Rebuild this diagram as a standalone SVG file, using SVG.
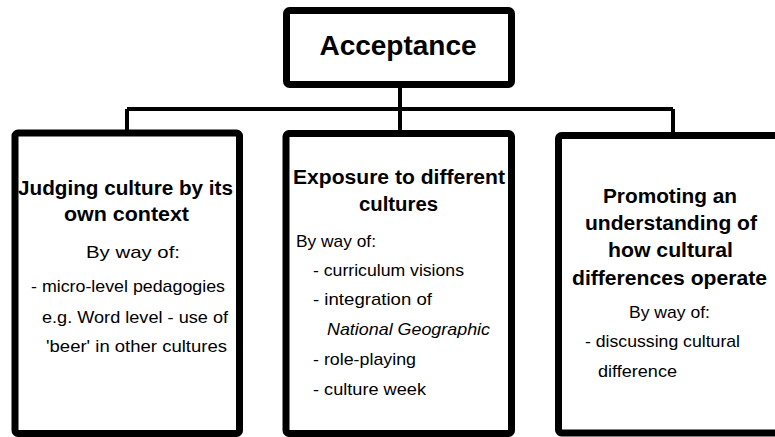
<svg xmlns="http://www.w3.org/2000/svg" width="775" height="437" viewBox="0 0 775 437">
<style>
.box{fill:#fff;stroke:#000;stroke-width:7}
.con{fill:none;stroke:#000;stroke-width:4}
text{font-family:"Liberation Sans",Arial,sans-serif;fill:#000}
.t{font-weight:bold;font-size:20px}
.b{font-size:17px}
.i{font-style:italic}
</style>
<rect width="775" height="437" fill="#fff"/>
<g id="connectors">
<path class="con" d="M400,88V109M127,109H673M127,109V130M400,109V130M673,109V132"/>
</g>
<g id="acceptance">
<rect class="box" x="286.5" y="10.5" width="225" height="74" rx="3"/>
<text x="398" y="55" text-anchor="middle" font-weight="bold" font-size="28">Acceptance</text>
</g>
<g id="judging">
<rect class="box" x="15" y="133" width="224.5" height="300.5" rx="3"/>
<text class="t" x="18" y="195" textLength="215" lengthAdjust="spacingAndGlyphs">Judging culture by its</text>
<text class="t" x="64" y="221" textLength="125" lengthAdjust="spacingAndGlyphs">own context</text>
<text class="b" x="86" y="258" textLength="94" lengthAdjust="spacingAndGlyphs">By way of:</text>
<text class="b" x="31" y="292" textLength="194" lengthAdjust="spacingAndGlyphs">- micro-level pedagogies</text>
<text class="b" x="42" y="323" textLength="186" lengthAdjust="spacingAndGlyphs">e.g.  Word level - use of</text>
<text class="b" x="46" y="352" textLength="181" lengthAdjust="spacingAndGlyphs">'beer' in other cultures</text>
</g>
<g id="exposure">
<rect class="box" x="286" y="133.5" width="225.5" height="300" rx="3"/>
<text class="t" x="293" y="184" textLength="212" lengthAdjust="spacingAndGlyphs">Exposure to different</text>
<text class="t" x="359" y="211" textLength="79" lengthAdjust="spacingAndGlyphs">cultures</text>
<text class="b" x="296" y="247" textLength="80" lengthAdjust="spacingAndGlyphs">By way of:</text>
<text class="b" x="313" y="276" textLength="151" lengthAdjust="spacingAndGlyphs">- curriculum visions</text>
<text class="b" x="313" y="305" textLength="119" lengthAdjust="spacingAndGlyphs">- integration of</text>
<text class="b i" x="327" y="335" textLength="163" lengthAdjust="spacingAndGlyphs">National Geographic</text>
<text class="b" x="313" y="365" textLength="103" lengthAdjust="spacingAndGlyphs">- role-playing</text>
<text class="b" x="313" y="395" textLength="113" lengthAdjust="spacingAndGlyphs">- culture week</text>
</g>
<g id="promoting">
<rect class="box" x="558.5" y="135.5" width="230" height="297.5" rx="3"/>
<text class="t" x="603" y="203" textLength="134" lengthAdjust="spacingAndGlyphs">Promoting an</text>
<text class="t" x="585" y="230" textLength="172" lengthAdjust="spacingAndGlyphs">understanding of</text>
<text class="t" x="608" y="257" textLength="125" lengthAdjust="spacingAndGlyphs">how cultural</text>
<text class="t" x="572" y="285" textLength="195" lengthAdjust="spacingAndGlyphs">differences operate</text>
<text class="b" x="629" y="318" textLength="81" lengthAdjust="spacingAndGlyphs">By way of:</text>
<text class="b" x="585" y="347" textLength="155" lengthAdjust="spacingAndGlyphs">- discussing  cultural</text>
<text class="b" x="598" y="377" textLength="79" lengthAdjust="spacingAndGlyphs">difference</text>
</g>
</svg>
